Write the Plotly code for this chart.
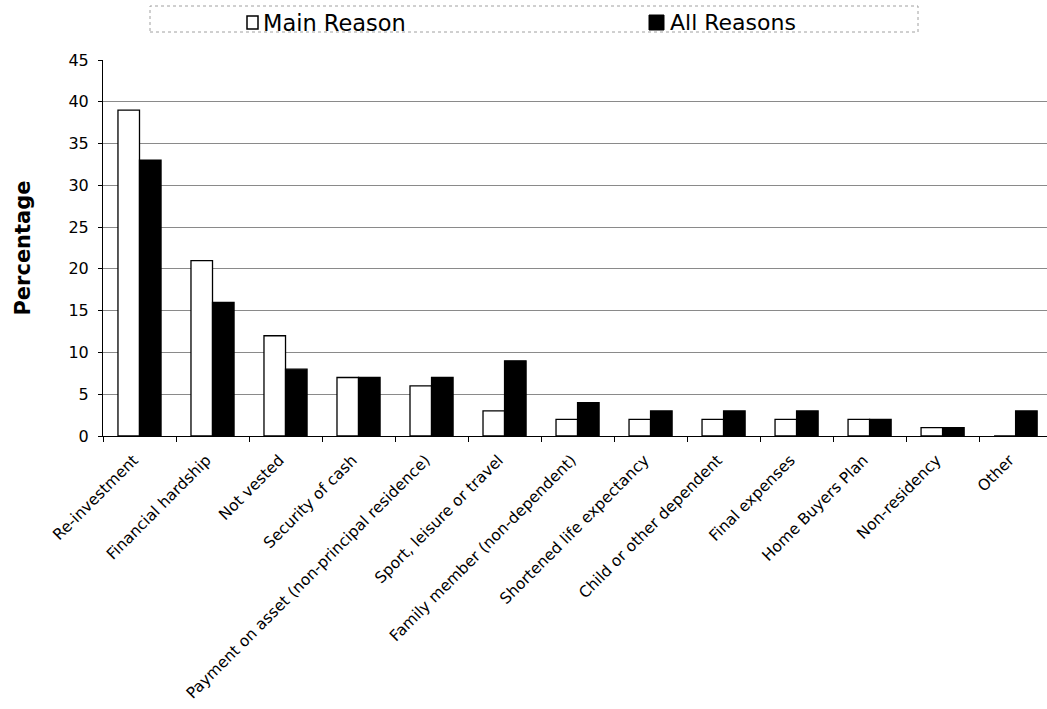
import plotly.graph_objects as go

# Reasons for withdrawal and the share of respondents citing each one
categories = [
    "Re-investment",
    "Financial hardship",
    "Not vested",
    "Security of cash",
    "Payment on asset (non-principal residence)",
    "Sport, leisure or travel",
    "Family member (non-dependent)",
    "Shortened life expectancy",
    "Child or other dependent",
    "Final expenses",
    "Home Buyers Plan",
    "Non-residency",
    "Other",
]
main_reason = [39, 21, 12, 7, 6, 3, 2, 2, 2, 2, 2, 1, 0]
all_reasons = [33, 16, 8, 7, 7, 9, 4, 3, 3, 3, 2, 1, 3]
y_ticks = [0, 5, 10, 15, 20, 25, 30, 35, 40, 45]

FONT = "DejaVu Sans, Verdana, sans-serif"

fig = go.Figure()
fig.add_trace(go.Bar(
    name="Main Reason", x=categories, y=main_reason,
    marker=dict(color="white", line=dict(color="black", width=1.3)),
    showlegend=False,
))
fig.add_trace(go.Bar(
    name="All Reasons", x=categories, y=all_reasons,
    marker=dict(color="black", line=dict(color="black", width=1.3)),
    showlegend=False,
))

W, H = 1047, 709
L, R, T, B = 103, 0, 60, 273
pw, ph = W - L - R, H - T - B


def px_x(x):
    return (x - L) / pw


def px_y(y):
    return (H - B - y) / ph


# Legend box drawn by hand: dotted frame, two swatches and their labels
shapes = [
    dict(type="rect", xref="paper", yref="paper",
         x0=px_x(150), x1=px_x(918), y0=px_y(32), y1=px_y(6),
         line=dict(color="#a0a0a0", width=1, dash="dot"),
         fillcolor="rgba(0,0,0,0)", layer="below"),
    dict(type="rect", xref="paper", yref="paper",
         x0=px_x(247), x1=px_x(258), y0=px_y(29), y1=px_y(16),
         line=dict(color="black", width=1.5), fillcolor="white"),
    dict(type="rect", xref="paper", yref="paper",
         x0=px_x(649), x1=px_x(664), y0=px_y(30), y1=px_y(15),
         line=dict(color="black", width=1), fillcolor="black"),
]
annotations = [
    dict(text="Main Reason", xref="paper", yref="paper",
         x=px_x(261), y=px_y(22.5), xanchor="left", yanchor="middle",
         showarrow=False, font=dict(family=FONT, size=22.5, color="black")),
    dict(text="All Reasons", xref="paper", yref="paper",
         x=px_x(668), y=px_y(22.5), xanchor="left", yanchor="middle",
         showarrow=False, font=dict(family=FONT, size=22, color="black")),
]

fig.update_layout(
    width=W, height=H,
    margin=dict(l=L, r=R, t=T, b=B, pad=0),
    paper_bgcolor="white", plot_bgcolor="white",
    barmode="group", bargap=0.41, bargroupgap=0,
    font=dict(family=FONT, color="black"),
    showlegend=False,
    xaxis=dict(
        type="category",
        categoryorder="array", categoryarray=categories,
        range=[-0.5, 12.43],
        tickangle=-45,
        tickfont=dict(family=FONT, size=15.5, color="black"),
        tickson="boundaries",
        ticks="outside", ticklen=5, tickcolor="black",
        ticklabelshift=-6, ticklabelstandoff=8,
        showline=True, linecolor="black", linewidth=1,
        showgrid=False, zeroline=False,
        automargin=False,
    ),
    yaxis=dict(
        range=[0, 45],
        tickvals=y_ticks,
        tickfont=dict(family=FONT, size=16, color="black"),
        ticks="outside", ticklen=4, tickcolor="black",
        ticklabelstandoff=6,
        showline=True, linecolor="black", linewidth=1,
        showgrid=True, gridcolor="#8a8a8a", gridwidth=1,
        zeroline=False,
        title=dict(text="<b>Percentage</b>",
                   font=dict(family=FONT, size=21, color="black"),
                   standoff=32),
        automargin=False,
    ),
    shapes=shapes,
    annotations=annotations,
)

fig.write_html("out.html")
